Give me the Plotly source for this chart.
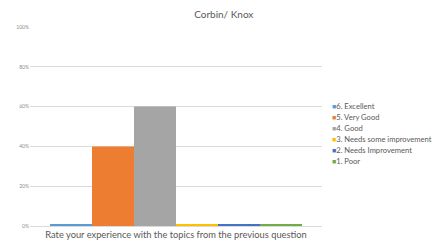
import plotly.graph_objects as go

category = ["Rate your experience with the topics from the previous question"]
series_names = ["6. Excellent", "5. Very Good", "4. Good",
                "3. Needs some improvement", "2. Needs Improvement", "1. Poor"]
series_values = [0.7, 40, 60, 0.7, 0.7, 0.7]
colors = ["#5B9BD5", "#ED7D31", "#A5A5A5", "#FFC000", "#4472C4", "#70AD47"]
tick_vals = [0, 20, 40, 60, 80, 100]
tick_text = ["0%", "20%", "40%", "60%", "80%", "100%"]

fig = go.Figure()
for name, val, col in zip(series_names, series_values, colors):
    fig.add_trace(go.Bar(x=category, y=[val], name=name, marker_color=col,
                         marker_line_width=0, showlegend=False))

# legend drawn as text annotations (coloured square + label)
for i, (name, col) in enumerate(zip(series_names, colors)):
    fig.add_annotation(
        xref="paper", yref="paper", x=(330 - 30) / 292, xanchor="left",
        y=(226 - (106 + i * 11)) / 199, yanchor="middle", showarrow=False,
        text=f"<span style='color:{col};font-size:7px'>■</span>{name}",
        font=dict(size=7.6, color="#595959"), align="left",
    )

fig.update_layout(
    width=437, height=245,
    margin=dict(l=30, r=115, t=27, b=19, autoexpand=False),
    paper_bgcolor="white", plot_bgcolor="white",
    font=dict(family="Lato, Open Sans, sans-serif", color="#595959"),
    barmode="group", bargap=0.137, bargroupgap=0,
    title=dict(text="Corbin/ Knox", x=0.512, xanchor="center", y=14 / 245,
               yref="container", yanchor="middle",
               font=dict(size=10, color="#595959")),
    showlegend=False,
    xaxis=dict(range=[-0.5, 0.5], showgrid=False, showline=True, linecolor="#D9D9D9",
               linewidth=1, ticks="", automargin=False,
               tickfont=dict(size=9.3, color="#595959")),
    yaxis=dict(range=[0, 100], tickvals=tick_vals, ticktext=tick_text, automargin=False,
               showgrid=True, gridcolor="#D9D9D9", gridwidth=1, zeroline=False,
               showline=False, ticks="", tickfont=dict(size=5, color="#8C8C8C")),
)
fig.update_layout(title_y=1 - 14 / 245)
fig.write_html("out.html", config={"displayModeBar": False},
               post_script="document.body.style.margin='0';")
